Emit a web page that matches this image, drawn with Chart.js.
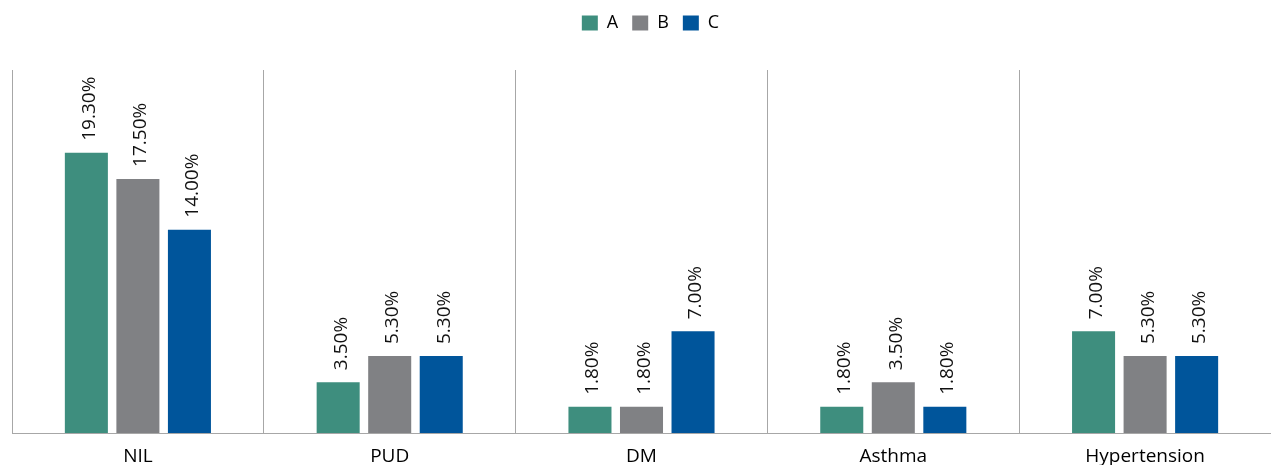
<!DOCTYPE html>
<html>
<head>
<meta charset="utf-8">
<script src="https://cdn.jsdelivr.net/npm/chart.js@4/dist/chart.umd.min.js"></script>
<style>
  html, body { margin: 0; padding: 0; background: #fff; }
  #wrap { width: 1271px; height: 465px; }
</style>
</head>
<body>
<div id="wrap"><canvas id="chart"></canvas></div>
<script>
// ── Data ──────────────────────────────────────────────────────────────────────
const categories = ['NIL', 'PUD', 'DM', 'Asthma', 'Hypertension'];
const seriesA = [19.3, 3.5, 1.8, 1.8, 7.0];
const seriesB = [17.5, 5.3, 1.8, 3.5, 5.3];
const seriesC = [14.0, 5.3, 7.0, 1.8, 5.3];

const GRID = '#a7a7a7';
const FONT = "'Open Sans', sans-serif";

// ── Value labels, rotated above each bar ─────────────────────────────────────
const valueLabels = {
    id: 'valueLabels',
    afterDatasetsDraw(chart) {
        const ctx = chart.ctx;
        ctx.save();
        ctx.font = `19px ${FONT}`;
        ctx.fillStyle = '#111';
        ctx.textAlign = 'left';
        ctx.textBaseline = 'middle';
        chart.data.datasets.forEach((ds, i) => {
            chart.getDatasetMeta(i).data.forEach((bar, j) => {
                ctx.save();
                ctx.translate(bar.x + 3, bar.y - 12);
                ctx.rotate(-Math.PI / 2);
                ctx.fillText(ds.data[j].toFixed(2) + '%', 0, 0);
                ctx.restore();
            });
        });
        ctx.restore();
    }
};

// ── Legend: extra room below it, nudged right like the original ──────────────
const legendGap = {
    id: 'legendGap',
    beforeInit(chart) {
        const fit = chart.legend.fit;
        chart.legend.fit = function () { fit.call(this); this.height += 28; };
    },
    afterLayout(chart) {
        chart.legend.left += 9;
        chart.legend.right += 9;
    }
};

new Chart(document.getElementById('chart'), {
    type: 'bar',
    data: {
        labels: categories,
        datasets: [
            { label: 'A', data: seriesA, backgroundColor: '#3e8e7e' },
            { label: 'B', data: seriesB, backgroundColor: '#808184' },
            { label: 'C', data: seriesC, backgroundColor: '#00559b' },
        ]
    },
    options: {
        responsive: true, maintainAspectRatio: false, animation: false,
        categoryPercentage: 0.614, barPercentage: 0.835,
        layout: { padding: { left: 12, right: 0, top: 0, bottom: 0 } },
        plugins: {
            legend: {
                labels: {
                    boxWidth: 16, boxHeight: 15, padding: 14,
                    color: '#000', font: { family: FONT, size: 18 }
                }
            },
            tooltip: { enabled: false }
        },
        scales: {
            x: {
                grid: { color: c => c.tick ? GRID : 'rgba(0,0,0,0)', drawTicks: false, offset: true },
                border: { color: GRID, width: 1 },
                ticks: { color: '#000', padding: 12, font: { family: FONT, size: 19 } },
                afterFit: s => { s.height = 32; }   // labels run off the bottom edge
            },
            y: { display: false, min: 0, max: 25 }
        }
    },
    plugins: [valueLabels, legendGap]
});
</script>
</body>
</html>
